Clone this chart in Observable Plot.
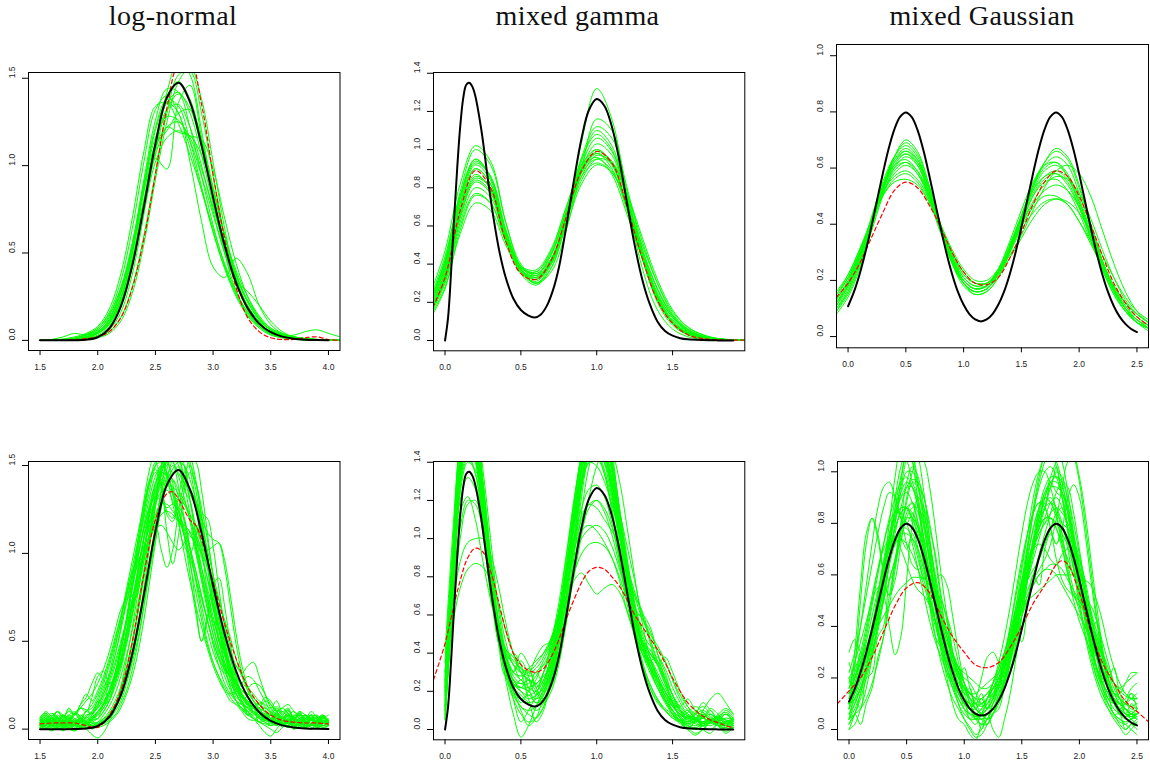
<!DOCTYPE html>
<html><head><meta charset="utf-8">
<script src="https://cdn.jsdelivr.net/npm/d3@7"></script>
<script src="https://cdn.jsdelivr.net/npm/@observablehq/plot@0.6"></script>
<style>
html,body{margin:0;padding:0;background:#fff;overflow:hidden;}
#fig{position:relative;width:1150px;height:768px;background:#fff;}
.title{position:absolute;top:0px;font-family:"Liberation Serif","Times New Roman",serif;font-size:28px;line-height:normal;white-space:nowrap;transform:translateX(-50%);color:#111;letter-spacing:0.4px;}
</style></head><body><div id="fig"></div>
<script>
// ---------- titles ----------
const titles = ["log-normal", "mixed gamma", "mixed Gaussian"];

// ---------- log-normal (top: smooth estimates) ----------
const lnTrueX = [1.5,1.6,1.7,1.8,1.9,2.0,2.1,2.2,2.3,2.4,2.5,2.6,2.7,2.8,2.9,3.0,3.1,3.2,3.3,3.4,3.5,3.6,3.7,3.8,3.9,4.0];
const lnTrueY = [0,0,0,0.0005,0.0034,0.018,0.068,0.1935,0.4295,0.7655,1.1242,1.3898,1.4742,1.3637,1.1158,0.8178,0.5428,0.3294,0.1845,0.096,0.0467,0.0214,0.0093,0.0038,0.0015,0.0006];
const lnGridX = [1.5,1.6,1.7,1.8,1.9,2.0,2.1,2.2,2.3,2.4,2.5,2.6,2.7,2.8,2.9,3.0,3.1,3.2,3.3,3.4,3.5,3.6,3.7,3.8,3.9,4.0,4.1];
const lnMeanSmoothY = [0,0,0.001,0.004,0.01,0.02,0.05,0.13,0.30,0.58,0.95,1.33,1.58,1.60,1.35,0.95,0.58,0.30,0.13,0.05,0.015,0.005,0.005,0.015,0.02,0.005,0];
const lnSmooth = [
 [0,0,0.002,0.01,0.02,0.04,0.09,0.21,0.44,0.76,1.08,1.32,1.41,1.33,1.10,0.82,0.56,0.35,0.20,0.11,0.06,0.03,0.015,0.008,0.004,0.002,0.001],
 [0,0.001,0.004,0.012,0.03,0.06,0.14,0.30,0.56,0.90,1.22,1.38,1.34,1.14,0.88,0.62,0.41,0.25,0.14,0.08,0.04,0.02,0.01,0.005,0.002,0.001,0],
 [0,0,0,0.003,0.01,0.025,0.06,0.16,0.38,0.72,1.10,1.42,1.60,1.52,1.20,0.82,0.50,0.28,0.14,0.07,0.03,0.015,0.007,0.003,0.001,0,0],
 [0,0,0.001,0.006,0.02,0.05,0.11,0.24,0.47,0.80,1.10,1.22,1.19,1.17,1.06,0.86,0.60,0.38,0.22,0.12,0.06,0.03,0.02,0.01,0.005,0.002,0],
 [0,0,0,0.004,0.015,0.04,0.10,0.24,0.50,0.86,1.04,0.98,1.36,1.46,1.16,0.83,0.56,0.36,0.22,0.12,0.06,0.03,0.01,0.005,0.002,0,0],
 [0,0,0,0.005,0.02,0.05,0.12,0.27,0.52,0.88,1.20,1.36,1.30,1.02,0.68,0.42,0.36,0.47,0.38,0.20,0.09,0.04,0.02,0.01,0.005,0.002,0],
 [0,0.002,0.008,0.02,0.04,0.08,0.18,0.38,0.70,1.08,1.34,1.36,1.24,1.06,0.86,0.64,0.44,0.28,0.16,0.09,0.05,0.03,0.02,0.01,0.005,0.002,0.001],
 [0,0,0,0.002,0.008,0.02,0.05,0.13,0.31,0.60,0.96,1.30,1.52,1.54,1.30,0.94,0.60,0.34,0.18,0.09,0.04,0.02,0.01,0.004,0.002,0,0],
 [0,0.001,0.004,0.014,0.035,0.07,0.15,0.30,0.52,0.80,1.06,1.22,1.25,1.16,0.98,0.76,0.55,0.37,0.23,0.13,0.07,0.04,0.02,0.01,0.006,0.003,0.001],
 [0,0.005,0.02,0.04,0.03,0.05,0.12,0.28,0.55,0.92,1.26,1.44,1.42,1.22,0.94,0.66,0.43,0.26,0.15,0.08,0.04,0.02,0.01,0.005,0.002,0.001,0],
 [0,0,0.001,0.005,0.015,0.04,0.10,0.23,0.46,0.80,1.14,1.36,1.42,1.30,1.06,0.78,0.52,0.32,0.18,0.10,0.05,0.03,0.03,0.05,0.06,0.04,0.02],
 [0,0,0.002,0.008,0.02,0.05,0.11,0.25,0.50,0.85,1.12,1.20,1.30,1.32,1.15,0.88,0.60,0.38,0.22,0.12,0.06,0.03,0.015,0.007,0.003,0.001,0],
 [0,0,0.001,0.004,0.012,0.03,0.08,0.19,0.42,0.76,1.12,1.40,1.48,1.38,1.14,0.86,0.60,0.40,0.25,0.14,0.07,0.035,0.015,0.006,0.002,0.001,0],
 [0,0,0.002,0.008,0.02,0.045,0.10,0.22,0.44,0.74,1.02,1.16,1.20,1.17,1.15,0.98,0.70,0.44,0.25,0.13,0.06,0.03,0.015,0.007,0.003,0.001,0],
 [0,0,0.003,0.01,0.03,0.07,0.16,0.34,0.64,1.02,1.32,1.40,1.30,1.10,0.86,0.62,0.42,0.27,0.16,0.09,0.05,0.025,0.012,0.006,0.003,0.001,0],
 [0,0,0.001,0.005,0.015,0.04,0.09,0.21,0.43,0.76,1.10,1.32,1.35,1.22,1.00,0.74,0.50,0.34,0.28,0.20,0.11,0.05,0.02,0.01,0.004,0.001,0],
 [0,0,0,0.002,0.006,0.015,0.04,0.11,0.27,0.55,0.92,1.25,1.48,1.56,1.38,1.02,0.64,0.35,0.17,0.08,0.035,0.015,0.006,0.002,0.001,0,0],
 [0,0.001,0.004,0.012,0.03,0.06,0.13,0.28,0.54,0.88,1.16,1.28,1.26,1.14,0.94,0.72,0.50,0.32,0.19,0.11,0.06,0.03,0.015,0.008,0.004,0.002,0.001]
];

// ---------- log-normal (bottom: rough estimates) ----------
const lnFineX = [1.5,1.55,1.6,1.65,1.7,1.75,1.8,1.85,1.9,1.95,2.0,2.05,2.1,2.15,2.2,2.25,2.3,2.35,2.4,2.45,2.5,2.55,2.6,2.65,2.7,2.75,2.8,2.85,2.9,2.95,3.0,3.05,3.1,3.15,3.2,3.25,3.3,3.35,3.4,3.45,3.5,3.55,3.6,3.65,3.7,3.75,3.8,3.85,3.9,3.95,4.0];
const lnMeanRoughX = [1.5,1.6,1.7,1.8,1.9,2.0,2.1,2.2,2.3,2.4,2.5,2.6,2.65,2.7,2.8,2.85,2.9,3.0,3.1,3.2,3.3,3.4,3.5,3.6,3.7,3.8,3.9,4.0];
const lnMeanRoughY = [0.03,0.035,0.035,0.035,0.02,0.01,0.08,0.22,0.50,0.88,1.19,1.34,1.35,1.31,1.19,1.16,1.08,0.84,0.60,0.40,0.24,0.14,0.08,0.05,0.04,0.035,0.035,0.03];
const lnRough = [
 [0.04,0.06,0.03,0.01,0.04,0.07,0.05,0.02,0.03,0.06, 0.10,0.15,0.22,0.30,0.38,0.52,0.70,0.88,1.02,1.18, 1.32,1.45,1.55,1.58,1.50,1.40,1.36,1.30,1.15,0.98, 0.80,0.62,0.46,0.34,0.26,0.20,0.16,0.12,0.10,0.07, 0.05,0.06,0.03,0.01,0.03,0.06,0.04,0.01,0.02,0.05,0.03],
 [0.02,0.00,0.03,0.06,0.04,0.02,0.05,0.08,0.06,0.10, 0.16,0.24,0.30,0.42,0.58,0.76,0.92,1.08,1.26,1.42, 1.48,1.38,1.22,1.18,1.26,1.20,1.02,0.84,0.66,0.50, 0.38,0.30,0.22,0.16,0.14,0.10,0.06,0.05,0.07,0.04, 0.02,0.03,0.05,0.03,0.00,0.02,0.05,0.06,0.03,0.01,0.02],
 [0.01,0.03,0.05,0.02,-0.01,0.02,0.04,0.02,0.01,0.03, 0.04,0.06,0.08,0.14,0.22,0.34,0.48,0.66,0.86,1.06, 1.26,1.44,1.58,1.66,1.70,1.62,1.48,1.30,1.12,0.96, 0.82,0.66,0.50,0.36,0.26,0.18,0.13,0.10,0.08,0.06, 0.04,0.02,0.04,0.07,0.05,0.02,0.01,0.03,0.05,0.04,0.02],
 [0.05,0.03,0.02,0.04,0.07,0.05,0.03,0.05,0.08,0.09, 0.12,0.18,0.26,0.36,0.48,0.62,0.80,0.98,1.16,1.32, 1.44,1.50,1.46,1.34,1.20,1.12,0.96,0.70,0.50,0.62, 0.74,0.66,0.48,0.32,0.22,0.18,0.16,0.12,0.08,0.06, 0.05,0.08,0.10,0.07,0.04,0.03,0.06,0.08,0.05,0.02,0.03],
 [0.03,0.05,0.08,0.06,0.03,0.05,0.09,0.12,0.10,0.18, 0.30,0.33,0.26,0.28,0.40,0.56,0.72,0.90,1.08,1.24, 1.36,1.42,1.40,1.34,1.30,1.28,1.20,1.06,0.88,0.70, 0.54,0.42,0.33,0.26,0.20,0.15,0.12,0.10,0.07,0.05, 0.04,0.05,0.03,0.02,0.04,0.06,0.04,0.02,0.03,0.05,0.04],
 [0.02,0.04,0.02,0.00,0.02,0.05,0.03,0.01,0.03,0.04, 0.06,0.10,0.16,0.24,0.34,0.48,0.64,0.82,1.00,1.14, 1.16,1.02,0.92,1.02,1.24,1.40,1.46,1.40,1.26,1.08, 0.88,0.68,0.50,0.36,0.26,0.20,0.15,0.12,0.09,0.06, 0.04,0.03,0.05,0.04,0.02,0.04,0.06,0.03,0.01,0.03,0.04],
 [0.04,0.02,0.01,0.03,0.05,0.03,0.02,0.04,0.02,0.01, 0.02,0.04,0.06,0.10,0.16,0.26,0.38,0.52,0.70,0.90, 1.08,1.26,1.40,1.48,1.52,1.50,1.42,1.30,1.16,1.02, 0.88,0.74,0.60,0.46,0.36,0.32,0.36,0.38,0.30,0.20, 0.12,0.08,0.06,0.08,0.10,0.07,0.04,0.05,0.07,0.05,0.03],
 [0.06,0.08,0.05,0.03,0.06,0.10,0.08,0.12,0.16,0.20, 0.26,0.34,0.44,0.56,0.68,0.74,0.76,0.84,1.02,1.22, 1.38,1.46,1.44,1.36,1.24,1.10,0.94,0.78,0.62,0.48, 0.38,0.30,0.24,0.18,0.14,0.12,0.09,0.06,0.04,0.05, 0.08,0.06,0.03,0.01,0.03,0.06,0.08,0.05,0.02,0.00,0.02],
 [0.02,0.01,-0.01,0.01,0.03,0.02,0.00,0.02,0.03,0.02, 0.03,0.05,0.07,0.12,0.20,0.30,0.44,0.60,0.80,1.04, 1.28,1.50,1.66,1.72,1.66,1.50,1.30,1.10,0.92,0.76, 0.60,0.46,0.34,0.24,0.16,0.11,0.08,0.06,0.04,0.03, 0.02,0.04,0.06,0.04,0.02,0.01,0.03,0.05,0.06,0.04,0.02],
 [0.05,0.07,0.04,0.02,0.05,0.08,0.06,0.04,0.07,0.10, 0.14,0.20,0.28,0.38,0.50,0.62,0.74,0.86,0.98,1.08, 1.16,1.22,1.24,1.22,1.18,1.14,1.10,1.06,1.00,0.92, 0.80,0.66,0.52,0.40,0.30,0.24,0.20,0.18,0.14,0.10, 0.08,0.10,0.12,0.09,0.05,0.03,0.05,0.08,0.07,0.04,0.03],
 [0.00,0.02,0.05,0.07,0.04,0.01,0.03,0.06,0.05,0.08, 0.12,0.16,0.22,0.32,0.46,0.64,0.86,1.08,1.30,1.48, 1.58,1.56,1.44,1.28,1.18,1.16,1.12,1.00,0.84,0.68, 0.54,0.44,0.36,0.28,0.20,0.14,0.10,0.08,0.10,0.12, 0.09,0.05,0.03,0.04,0.06,0.04,0.01,0.00,0.03,0.06,0.05],
 [0.03,0.02,0.04,0.06,0.03,0.01,0.02,0.05,0.04,0.02, 0.03,0.06,0.10,0.16,0.24,0.36,0.50,0.68,0.90,1.12, 1.32,1.46,1.52,1.40,1.18,1.04,1.00,1.10,1.22,1.20, 1.04,0.80,0.58,0.40,0.28,0.20,0.14,0.10,0.07,0.05, 0.06,0.09,0.07,0.04,0.02,0.04,0.07,0.05,0.03,0.05,0.04],
 [0.05,0.04,0.07,0.10,0.08,0.05,0.08,0.12,0.11,0.09, 0.13,0.20,0.30,0.42,0.56,0.72,0.88,1.04,1.20,1.36, 1.50,1.60,1.62,1.54,1.38,1.20,1.04,0.90,0.76,0.62, 0.48,0.36,0.26,0.20,0.16,0.14,0.12,0.09,0.06,0.04, 0.03,0.05,0.07,0.05,0.03,0.02,0.04,0.06,0.04,0.02,0.03],
 [0.01,0.03,0.02,0.00,0.01,0.04,0.03,0.01,0.02,0.04, 0.03,0.05,0.09,0.14,0.22,0.32,0.44,0.58,0.76,0.96, 1.16,1.34,1.48,1.56,1.54,1.44,1.30,1.16,1.06,1.02, 1.04,1.06,0.96,0.76,0.54,0.36,0.24,0.16,0.11,0.08, 0.06,0.04,0.06,0.08,0.05,0.03,0.04,0.06,0.03,0.01,0.02],
 [0.04,0.06,0.09,0.07,0.04,0.06,0.09,0.07,0.05,0.08, 0.14,0.22,0.32,0.46,0.62,0.78,0.90,0.96,1.04,1.16, 1.28,1.35,1.36,1.30,1.20,1.10,0.98,0.86,0.74,0.62, 0.50,0.40,0.30,0.22,0.16,0.12,0.10,0.12,0.14,0.10, 0.06,0.04,0.03,0.05,0.08,0.06,0.03,0.02,0.04,0.07,0.05],
 [0.02,0.00,0.02,0.04,0.02,0.00,-0.01,0.01,0.03,0.02, 0.01,0.02,0.04,0.07,0.12,0.20,0.30,0.44,0.62,0.84, 1.06,1.26,1.42,1.54,1.60,1.62,1.56,1.42,1.22,1.00, 0.78,0.58,0.42,0.30,0.22,0.16,0.12,0.09,0.12,0.16, 0.14,0.10,0.06,0.04,0.05,0.08,0.06,0.03,0.02,0.04,0.03],
 [0.03,0.05,0.03,0.01,0.03,0.06,0.04,0.02,0.04,0.07, 0.10,0.14,0.20,0.30,0.44,0.62,0.82,1.04,1.24,1.40, 1.46,1.38,1.24,1.20,1.32,1.46,1.50,1.40,1.20,0.98, 0.76,0.58,0.44,0.34,0.26,0.19,0.14,0.10,0.07,0.06, 0.08,0.07,0.04,0.02,0.04,0.06,0.08,0.06,0.03,0.02,0.04],
 [0.02,0.04,0.06,0.04,0.02,0.03,0.05,0.03,0.02,0.05, 0.08,0.12,0.18,0.26,0.36,0.50,0.66,0.84,1.02,1.18, 1.30,1.38,1.40,1.38,1.34,1.28,1.20,1.10,0.98,0.86, 0.72,0.58,0.46,0.36,0.30,0.26,0.24,0.26,0.25,0.20, 0.14,0.10,0.12,0.14,0.10,0.06,0.04,0.06,0.08,0.05,0.04],
 [0.06,0.04,0.03,0.05,0.08,0.06,0.04,0.07,0.10,0.14, 0.20,0.28,0.38,0.50,0.64,0.80,0.96,1.12,1.28,1.42, 1.50,1.52,1.46,1.34,1.18,1.00,0.84,0.70,0.58,0.46, 0.36,0.28,0.22,0.20,0.22,0.26,0.30,0.28,0.22,0.16, 0.10,0.07,0.05,0.03,0.05,0.08,0.06,0.03,0.01,0.03,0.05],
 [0.03,0.01,0.00,0.02,0.05,0.04,0.02,0.01,0.00,-0.03, -0.05,-0.02,0.04,0.12,0.24,0.40,0.58,0.78,0.96,1.12, 1.22,1.28,1.28,1.24,1.20,1.16,1.12,1.04,0.92,0.78, 0.64,0.50,0.38,0.28,0.20,0.14,0.10,0.07,0.04,0.02, 0.00,-0.02,0.01,0.04,0.06,0.04,0.02,0.03,0.06,0.08,0.05],
 [0.07,0.09,0.06,0.03,0.05,0.08,0.10,0.07,0.04,0.06, 0.09,0.14,0.20,0.28,0.40,0.56,0.74,0.92,1.10,1.26, 1.40,1.50,1.54,1.52,1.44,1.32,1.18,1.02,0.86,0.72, 0.58,0.46,0.36,0.30,0.26,0.22,0.18,0.14,0.10,0.08, 0.09,0.11,0.08,0.05,0.07,0.10,0.08,0.05,0.04,0.06,0.08],
 [0.01,0.03,0.05,0.03,0.01,0.02,0.04,0.06,0.04,0.02, 0.04,0.08,0.13,0.20,0.30,0.42,0.56,0.72,0.90,1.10, 1.30,1.48,1.60,1.64,1.56,1.40,1.22,1.04,0.88,0.74, 0.62,0.52,0.42,0.32,0.24,0.18,0.14,0.13,0.15,0.13, 0.09,0.05,0.03,0.02,0.04,0.03,0.01,0.02,0.05,0.07,0.04],
 [0.06,0.02,0.07,0.03,0.08,0.04,0.09,0.05,0.10,0.08, 0.16,0.14,0.26,0.28,0.44,0.50,0.70,0.78,1.00,1.10, 1.34,1.40,1.52,1.46,1.50,1.36,1.30,1.12,1.02,0.80, 0.70,0.50,0.44,0.30,0.28,0.18,0.18,0.10,0.12,0.05, 0.08,0.02,0.06,0.01,0.07,0.02,0.08,0.03,0.07,0.02,0.05],
 [0.00,0.05,0.01,0.06,0.00,0.04,-0.01,0.05,0.02,0.07, 0.06,0.14,0.16,0.30,0.36,0.56,0.66,0.90,1.00,1.22, 1.30,1.48,1.50,1.60,1.52,1.50,1.34,1.26,1.04,0.92, 0.68,0.58,0.38,0.32,0.18,0.16,0.08,0.10,0.04,0.08, 0.02,0.07,0.01,0.06,0.00,0.05,0.01,0.06,0.02,0.07,0.03],
 [0.04,0.08,0.05,0.10,0.06,0.12,0.08,0.14,0.18,0.26, 0.32,0.28,0.24,0.32,0.46,0.60,0.70,0.80,0.96,1.10, 1.20,1.32,1.38,1.42,1.36,1.30,1.22,1.16,1.06,0.94, 0.82,0.74,0.62,0.52,0.40,0.30,0.24,0.20,0.16,0.14, 0.12,0.16,0.10,0.12,0.06,0.10,0.04,0.08,0.03,0.07,0.04],
 [0.02,0.06,0.03,0.07,0.02,0.05,0.01,0.04,0.03,0.06, 0.08,0.12,0.20,0.30,0.44,0.62,0.82,1.02,1.22,1.40, 1.52,1.40,1.12,0.94,1.10,1.36,1.54,1.52,1.36,1.12, 0.86,0.64,0.46,0.34,0.24,0.20,0.14,0.12,0.08,0.10, 0.06,0.09,0.04,0.08,0.03,0.06,0.02,0.07,0.04,0.08,0.05],
 [0.03,0.07,0.04,0.08,0.05,0.02,0.06,0.03,0.07,0.05, 0.10,0.14,0.22,0.32,0.46,0.62,0.80,0.98,1.14,1.26, 1.32,1.30,1.26,1.28,1.24,1.10,0.88,0.66,0.50,0.64, 0.82,0.86,0.70,0.48,0.30,0.20,0.16,0.14,0.10,0.08, 0.05,0.09,0.06,0.10,0.07,0.03,0.06,0.02,0.05,0.08,0.04],
 [0.01,0.04,0.02,0.05,0.01,0.03,0.00,0.04,0.01,0.03, 0.02,0.05,0.08,0.12,0.18,0.28,0.40,0.56,0.74,0.94, 1.12,1.30,1.44,1.50,1.46,1.40,1.36,1.30,1.20,1.12, 1.08,1.06,0.92,0.70,0.48,0.32,0.22,0.16,0.12,0.10, 0.08,0.12,0.08,0.11,0.06,0.09,0.04,0.07,0.03,0.06,0.02],
 [0.05,0.09,0.06,0.10,0.07,0.11,0.08,0.14,0.20,0.16, 0.22,0.30,0.40,0.52,0.64,0.76,0.88,1.00,1.14,1.28, 1.40,1.46,1.44,1.36,1.26,1.14,1.02,0.90,0.76,0.62, 0.50,0.40,0.34,0.30,0.26,0.22,0.20,0.18,0.14,0.12, 0.10,0.13,0.09,0.11,0.06,0.09,0.05,0.08,0.04,0.07,0.05],
 [0.02,0.05,0.02,0.06,0.03,0.07,0.02,0.06,0.03,0.05, 0.06,0.10,0.16,0.26,0.38,0.54,0.72,0.90,1.08,1.24, 1.36,1.44,1.46,1.42,1.32,1.18,1.02,0.86,0.70,0.56, 0.44,0.36,0.32,0.34,0.36,0.30,0.22,0.16,0.14,0.18, 0.16,0.10,0.06,0.09,0.05,0.08,0.03,0.06,0.02,0.05,0.03],
 [0.03,0.00,0.04,0.01,0.05,0.02,0.04,0.01,0.03,0.00, 0.02,0.03,0.05,0.08,0.14,0.22,0.34,0.50,0.70,0.92, 1.14,1.36,1.54,1.66,1.70,1.64,1.52,1.36,1.16,0.94, 0.72,0.52,0.36,0.24,0.16,0.12,0.08,0.10,0.06,0.09, 0.04,0.08,0.03,0.06,0.01,0.05,0.02,0.06,0.03,0.07,0.04],
 [0.06,0.10,0.07,0.04,0.08,0.05,0.09,0.06,0.10,0.12, 0.18,0.26,0.36,0.48,0.60,0.72,0.84,0.94,1.04,1.10, 1.14,1.16,1.12,1.06,1.02,1.06,1.12,1.10,1.00,0.86, 0.70,0.56,0.44,0.34,0.24,0.16,0.10,0.06,0.02,-0.02, -0.04,0.00,0.04,0.08,0.05,0.09,0.06,0.10,0.07,0.04,0.06]
];

// ---------- mixed gamma ----------
const mgTrueX = [0,0.02,0.04,0.06,0.08,0.10,0.12,0.14,0.16,0.18,0.20,0.24,0.28,0.32,0.36,0.40,0.45,0.50,0.55,0.59,0.63,0.67,0.71,0.75,0.80,0.85,0.90,0.95,1.00,1.05,1.10,1.15,1.20,1.25,1.30,1.35,1.40,1.45,1.50,1.55,1.60,1.70,1.80,1.90];
const mgTrueY = [0,0.12,0.36,0.64,0.90,1.12,1.27,1.34,1.35,1.33,1.28,1.10,0.86,0.64,0.46,0.33,0.22,0.16,0.13,0.12,0.135,0.18,0.26,0.38,0.60,0.84,1.06,1.21,1.265,1.23,1.12,0.94,0.72,0.50,0.32,0.19,0.10,0.05,0.025,0.012,0.006,0.002,0.0005,0];
const mgGridX = [-0.1,0,0.1,0.2,0.3,0.4,0.5,0.6,0.7,0.8,0.9,1.0,1.1,1.2,1.3,1.4,1.5,1.6,1.7,1.8,1.9,2.0];
const mgMeanSmoothY = [0.14,0.33,0.68,0.89,0.80,0.52,0.35,0.32,0.42,0.65,0.89,0.99,0.93,0.70,0.43,0.21,0.09,0.03,0.01,0.004,0.002,0.001];
const mgSmooth = [
 [0.16,0.36,0.70,0.90,0.82,0.55,0.37,0.33,0.43,0.66,0.90,1.00,0.93,0.70,0.43,0.22,0.09,0.035,0.012,0.004,0.001,0],
 [0.20,0.42,0.78,1.00,0.92,0.62,0.40,0.34,0.42,0.64,0.88,0.98,0.92,0.70,0.44,0.23,0.10,0.04,0.015,0.005,0.002,0],
 [0.12,0.28,0.56,0.72,0.68,0.50,0.36,0.32,0.40,0.60,0.82,0.92,0.88,0.70,0.47,0.27,0.13,0.06,0.025,0.01,0.004,0.001],
 [0.18,0.38,0.72,0.92,0.84,0.56,0.36,0.30,0.40,0.66,0.96,1.12,1.06,0.80,0.48,0.24,0.10,0.035,0.012,0.004,0.001,0],
 [0.14,0.32,0.64,0.83,0.77,0.53,0.37,0.34,0.45,0.68,0.90,0.98,0.90,0.68,0.43,0.23,0.11,0.045,0.018,0.006,0.002,0],
 [0.22,0.44,0.76,0.95,0.85,0.56,0.35,0.29,0.38,0.63,0.94,1.10,1.02,0.74,0.44,0.21,0.09,0.03,0.01,0.003,0.001,0],
 [0.13,0.30,0.60,0.77,0.72,0.52,0.38,0.36,0.47,0.70,0.92,1.00,0.92,0.70,0.45,0.25,0.12,0.05,0.02,0.007,0.002,0],
 [0.17,0.37,0.70,0.87,0.79,0.54,0.38,0.36,0.46,0.67,0.86,0.93,0.88,0.71,0.50,0.30,0.15,0.07,0.03,0.01,0.003,0.001],
 [0.24,0.47,0.82,1.02,0.94,0.62,0.38,0.30,0.36,0.58,0.90,1.16,1.10,0.78,0.44,0.20,0.08,0.03,0.01,0.003,0.001,0],
 [0.15,0.34,0.66,0.85,0.80,0.56,0.39,0.35,0.43,0.63,0.84,0.95,0.93,0.77,0.54,0.32,0.16,0.07,0.03,0.01,0.004,0.001],
 [0.19,0.40,0.74,0.93,0.86,0.58,0.37,0.30,0.38,0.64,1.04,1.32,1.16,0.74,0.38,0.16,0.06,0.02,0.006,0.002,0,0],
 [0.11,0.27,0.58,0.76,0.72,0.52,0.37,0.33,0.42,0.64,0.88,0.99,0.94,0.74,0.48,0.27,0.13,0.05,0.02,0.007,0.002,0],
 [0.21,0.42,0.76,0.95,0.86,0.57,0.37,0.32,0.41,0.64,0.90,1.03,0.97,0.73,0.45,0.23,0.10,0.04,0.015,0.005,0.001,0],
 [0.16,0.35,0.67,0.86,0.80,0.55,0.37,0.32,0.41,0.64,0.92,1.06,0.99,0.75,0.46,0.23,0.10,0.04,0.014,0.005,0.001,0],
 [0.14,0.31,0.62,0.80,0.75,0.53,0.38,0.35,0.45,0.68,0.88,0.95,0.89,0.70,0.47,0.27,0.13,0.055,0.02,0.008,0.003,0.001],
 [0.18,0.39,0.72,0.90,0.82,0.55,0.36,0.31,0.41,0.66,0.95,1.08,1.00,0.73,0.43,0.21,0.09,0.035,0.012,0.004,0.001,0],
 [0.15,0.33,0.65,0.84,0.78,0.55,0.39,0.37,0.48,0.70,0.90,0.96,0.87,0.66,0.43,0.24,0.12,0.05,0.02,0.007,0.002,0],
 [0.20,0.41,0.75,0.94,0.86,0.58,0.39,0.33,0.41,0.62,0.86,0.97,0.93,0.76,0.52,0.30,0.14,0.06,0.02,0.007,0.002,0]
];
const mgFineX = [0,0.05,0.1,0.15,0.2,0.25,0.3,0.35,0.4,0.45,0.5,0.55,0.6,0.65,0.7,0.75,0.8,0.85,0.9,0.95,1.0,1.05,1.1,1.15,1.2,1.25,1.3,1.35,1.4,1.45,1.5,1.55,1.6,1.65,1.7,1.75,1.8,1.85,1.9];
const mgMeanRoughX = [-0.076,0,0.05,0.1,0.15,0.2,0.25,0.3,0.35,0.4,0.45,0.5,0.55,0.6,0.65,0.7,0.75,0.8,0.85,0.9,0.95,1.0,1.05,1.1,1.15,1.2,1.25,1.3,1.35,1.4,1.45,1.5,1.55,1.6,1.65,1.7,1.75,1.8,1.85,1.9];
const mgMeanRoughY = [0.26,0.45,0.62,0.78,0.90,0.95,0.93,0.83,0.68,0.52,0.40,0.34,0.31,0.30,0.32,0.38,0.47,0.58,0.68,0.77,0.83,0.85,0.84,0.80,0.75,0.68,0.60,0.54,0.48,0.42,0.35,0.27,0.20,0.14,0.10,0.07,0.05,0.035,0.02,0.01];
const mgRough = [
 [0.20,0.90,1.50,1.70,1.62,1.30,0.90,0.56,0.32,0.20,0.16,0.18,0.14,0.16,0.28,0.48,0.78,1.10,1.38,1.56,1.62,1.54,1.34,1.04,0.74,0.50,0.34,0.22,0.14,0.10,0.06,0.04,0.07,0.05,0.02,0.04,0.06,0.03,0.02],
 [0.30,0.55,0.74,0.84,0.87,0.85,0.78,0.66,0.52,0.40,0.32,0.28,0.30,0.36,0.46,0.60,0.76,0.90,1.00,1.05,1.07,1.04,0.96,0.84,0.70,0.56,0.44,0.34,0.26,0.18,0.12,0.08,0.06,0.05,0.06,0.04,0.03,0.02,0.03],
 [0.25,0.62,0.88,0.98,1.00,1.00,0.92,0.76,0.56,0.40,0.30,0.26,0.24,0.30,0.42,0.60,0.80,1.00,1.16,1.26,1.28,1.22,1.08,0.88,0.66,0.48,0.34,0.24,0.16,0.11,0.08,0.05,0.03,0.05,0.07,0.05,0.02,0.01,0.03],
 [0.10,0.60,1.00,1.18,1.20,1.06,0.82,0.58,0.40,0.30,0.26,0.22,0.20,0.26,0.38,0.52,0.66,0.78,0.82,0.76,0.71,0.74,0.76,0.72,0.62,0.50,0.40,0.32,0.26,0.20,0.14,0.09,0.06,0.04,0.06,0.08,0.05,0.02,0.01],
 [0.05,0.70,1.44,1.72,1.60,1.22,0.80,0.48,0.30,0.20,0.10,0.02,0.06,0.18,0.30,0.46,0.70,1.00,1.30,1.50,1.56,1.46,1.24,0.96,0.70,0.52,0.42,0.36,0.26,0.16,0.08,0.03,0.01,0.04,0.08,0.06,0.02,-0.02,0.01],
 [0.18,0.84,1.40,1.56,1.44,1.16,0.84,0.58,0.42,0.34,0.30,0.32,0.36,0.40,0.46,0.58,0.76,0.94,1.04,1.07,1.04,0.98,0.90,0.78,0.62,0.50,0.42,0.36,0.28,0.20,0.13,0.08,0.05,0.03,0.02,0.04,0.06,0.05,0.03],
 [0.12,0.78,1.36,1.54,1.42,1.10,0.74,0.46,0.36,0.40,0.34,0.22,0.14,0.18,0.30,0.50,0.78,1.06,1.30,1.46,1.50,1.42,1.24,1.00,0.76,0.56,0.42,0.32,0.24,0.16,0.10,0.06,0.04,0.06,0.08,0.05,0.03,0.04,0.05],
 [0.22,0.88,1.42,1.62,1.50,1.18,0.82,0.54,0.36,0.26,0.20,0.16,0.18,0.22,0.34,0.54,0.82,1.12,1.36,1.48,1.46,1.36,1.20,1.02,0.84,0.66,0.50,0.40,0.34,0.26,0.18,0.11,0.07,0.05,0.03,0.05,0.07,0.09,0.06],
 [0.08,0.74,1.46,1.76,1.64,1.28,0.88,0.56,0.34,0.20,0.12,0.10,0.12,0.20,0.34,0.56,0.86,1.18,1.44,1.60,1.64,1.56,1.36,1.08,0.78,0.54,0.36,0.24,0.16,0.10,0.06,0.04,0.02,0.01,0.03,0.05,0.04,0.02,0.01],
 [0.26,0.86,1.30,1.44,1.34,1.06,0.74,0.48,0.32,0.24,0.22,0.28,0.38,0.44,0.46,0.52,0.66,0.86,1.04,1.16,1.20,1.16,1.06,0.90,0.72,0.56,0.46,0.40,0.34,0.26,0.18,0.12,0.08,0.06,0.04,0.03,0.05,0.04,0.03],
 [0.15,0.80,1.34,1.52,1.44,1.14,0.78,0.50,0.32,0.22,0.16,0.14,0.16,0.24,0.38,0.58,0.84,1.10,1.32,1.44,1.44,1.34,1.14,0.90,0.70,0.60,0.60,0.54,0.40,0.26,0.14,0.07,0.04,0.05,0.10,0.16,0.19,0.14,0.08],
 [0.10,0.66,1.26,1.50,1.46,1.20,0.86,0.56,0.36,0.26,0.24,0.26,0.24,0.20,0.24,0.40,0.66,0.98,1.28,1.50,1.60,1.56,1.40,1.16,0.90,0.66,0.46,0.32,0.22,0.15,0.10,0.06,0.03,0.02,0.04,0.06,0.04,0.01,0.00],
 [0.30,0.74,1.06,1.20,1.18,1.04,0.80,0.56,0.38,0.28,0.24,0.24,0.28,0.34,0.42,0.56,0.74,0.94,1.10,1.18,1.20,1.14,1.02,0.86,0.70,0.56,0.44,0.34,0.26,0.20,0.14,0.10,0.07,0.05,0.04,0.05,0.06,0.05,0.04],
 [0.12,0.76,1.40,1.62,1.50,1.16,0.78,0.48,0.28,0.16,0.08,0.04,0.06,0.12,0.24,0.44,0.72,1.06,1.38,1.60,1.70,1.66,1.46,1.14,0.80,0.52,0.34,0.22,0.15,0.10,0.07,0.05,0.03,0.04,0.06,0.04,0.02,0.03,0.04],
 [0.20,0.82,1.38,1.58,1.48,1.16,0.80,0.52,0.34,0.24,0.20,0.18,0.20,0.26,0.38,0.56,0.80,1.06,1.28,1.40,1.42,1.34,1.16,0.92,0.70,0.52,0.40,0.36,0.38,0.32,0.22,0.14,0.08,0.05,0.03,0.02,0.04,0.06,0.05],
 [0.06,0.70,1.40,1.68,1.58,1.24,0.84,0.50,0.26,0.08,-0.04,0.02,0.12,0.22,0.36,0.56,0.82,1.10,1.34,1.50,1.54,1.46,1.28,1.04,0.80,0.60,0.44,0.32,0.22,0.14,0.08,0.04,0.01,-0.02,0.00,0.04,0.07,0.05,0.02],
 [0.24,0.80,1.20,1.32,1.26,1.02,0.74,0.50,0.34,0.26,0.22,0.22,0.24,0.28,0.34,0.44,0.60,0.80,1.02,1.22,1.38,1.46,1.44,1.30,1.06,0.80,0.56,0.38,0.26,0.18,0.12,0.08,0.06,0.08,0.10,0.07,0.04,0.03,0.05],
 [0.16,0.78,1.36,1.56,1.46,1.14,0.78,0.50,0.32,0.24,0.22,0.20,0.16,0.20,0.32,0.52,0.80,1.10,1.36,1.52,1.56,1.48,1.30,1.06,0.82,0.62,0.46,0.34,0.24,0.16,0.10,0.07,0.09,0.12,0.09,0.05,0.08,0.11,0.08],
 [0.28,0.84,1.28,1.42,1.34,1.08,0.78,0.54,0.38,0.30,0.28,0.30,0.34,0.40,0.48,0.58,0.70,0.82,0.92,0.97,0.98,0.96,0.90,0.80,0.68,0.56,0.46,0.38,0.30,0.22,0.15,0.10,0.07,0.05,0.04,0.05,0.04,0.03,0.04],
 [0.10,0.84,1.56,1.80,1.66,1.26,0.84,0.52,0.32,0.22,0.18,0.14,0.10,0.14,0.26,0.48,0.80,1.16,1.46,1.66,1.72,1.62,1.40,1.10,0.80,0.56,0.40,0.30,0.22,0.15,0.09,0.05,0.02,0.00,0.02,0.04,0.02,0.00,0.01],
 [0.35,0.96,1.48,1.62,1.44,1.10,0.70,0.52,0.38,0.30,0.36,0.28,0.18,0.24,0.40,0.62,0.90,1.20,1.44,1.58,1.60,1.50,1.30,1.06,0.86,0.64,0.58,0.52,0.40,0.30,0.18,0.12,0.16,0.10,0.06,0.10,0.05,0.08,0.04],
 [0.05,0.64,1.30,1.60,1.56,1.30,0.92,0.58,0.34,0.22,0.26,0.16,0.04,0.10,0.30,0.54,0.84,1.14,1.40,1.52,1.48,1.40,1.28,1.14,0.96,0.78,0.60,0.48,0.36,0.26,0.14,0.06,0.00,0.04,0.00,-0.02,0.03,0.00,0.02],
 [0.40,1.02,1.50,1.66,1.54,1.20,0.82,0.54,0.40,0.34,0.26,0.32,0.22,0.30,0.46,0.66,0.92,1.20,1.42,1.54,1.52,1.40,1.22,1.02,0.84,0.70,0.62,0.48,0.34,0.24,0.16,0.10,0.04,0.08,0.14,0.10,0.06,0.10,0.07],
 [0.18,0.82,1.34,1.50,1.40,1.10,0.78,0.52,0.34,0.16,0.04,0.10,0.18,0.30,0.44,0.62,0.86,1.10,1.30,1.40,1.38,1.30,1.18,1.02,0.86,0.72,0.60,0.46,0.34,0.38,0.30,0.20,0.12,0.06,0.02,0.00,0.04,0.08,0.06],
 [0.22,0.86,1.42,1.70,1.60,1.26,0.86,0.56,0.42,0.38,0.30,0.20,0.26,0.34,0.30,0.40,0.62,0.94,1.26,1.50,1.62,1.58,1.42,1.16,0.86,0.60,0.46,0.42,0.34,0.24,0.14,0.08,0.10,0.06,0.09,0.04,0.07,0.03,0.05],
 [0.12,0.72,1.24,1.40,1.36,1.16,0.90,0.66,0.46,0.34,0.30,0.26,0.20,0.14,0.20,0.34,0.58,0.90,1.22,1.46,1.58,1.54,1.38,1.14,0.88,0.64,0.48,0.40,0.36,0.28,0.18,0.10,0.06,0.10,0.07,0.11,0.08,0.04,0.06],
 [0.30,0.90,1.40,1.56,1.44,1.12,0.76,0.46,0.28,0.30,0.40,0.34,0.22,0.16,0.22,0.36,0.56,0.84,1.14,1.38,1.50,1.46,1.32,1.10,0.88,0.66,0.52,0.44,0.42,0.36,0.26,0.16,0.10,0.06,0.03,0.05,0.02,0.04,0.06],
 [0.08,0.70,1.36,1.66,1.62,1.36,1.00,0.64,0.40,0.24,0.14,0.20,0.30,0.24,0.28,0.44,0.70,1.00,1.28,1.46,1.52,1.44,1.26,1.02,0.78,0.58,0.46,0.38,0.28,0.20,0.12,0.08,0.05,0.09,0.12,0.08,0.05,0.02,0.05],
 [0.26,0.76,1.14,1.22,1.10,0.88,0.68,0.52,0.42,0.36,0.32,0.30,0.32,0.38,0.48,0.62,0.80,0.98,1.12,1.18,1.16,1.10,1.04,0.96,0.84,0.70,0.58,0.50,0.44,0.36,0.26,0.18,0.12,0.08,0.06,0.04,0.06,0.08,0.05],
 [0.14,0.80,1.44,1.72,1.60,1.24,0.84,0.52,0.30,0.18,0.12,0.08,0.06,0.12,0.26,0.48,0.78,1.12,1.42,1.60,1.66,1.58,1.38,1.10,0.82,0.60,0.46,0.36,0.28,0.18,0.10,0.04,0.00,-0.03,0.00,0.04,0.02,-0.01,0.02]
];

// ---------- mixed Gaussian ----------
const mnTrueX = [0,0.05,0.1,0.15,0.2,0.25,0.3,0.35,0.4,0.45,0.5,0.55,0.6,0.65,0.7,0.75,0.8,0.85,0.9,0.95,1.0,1.05,1.1,1.15,1.2,1.25,1.3,1.35,1.4,1.45,1.5,1.55,1.6,1.65,1.7,1.75,1.8,1.85,1.9,1.95,2.0,2.05,2.1,2.15,2.2,2.25,2.3,2.35,2.4,2.45,2.5];
const mnTrueY = [0.108,0.158,0.222,0.300,0.388,0.484,0.579,0.667,0.737,0.782,0.798,0.782,0.737,0.667,0.579,0.484,0.389,0.300,0.223,0.160,0.113,0.080,0.061,0.054,0.061,0.080,0.113,0.160,0.223,0.300,0.389,0.484,0.579,0.667,0.737,0.782,0.798,0.782,0.737,0.667,0.579,0.484,0.388,0.300,0.222,0.158,0.108,0.071,0.045,0.027,0.016];
const mnGridX = [-0.1,0,0.1,0.2,0.3,0.4,0.5,0.6,0.7,0.8,0.9,1.0,1.1,1.2,1.3,1.4,1.5,1.6,1.7,1.8,1.9,2.0,2.1,2.2,2.3,2.4,2.5,2.6];
const mnMeanSmoothY = [0.14,0.19,0.26,0.35,0.44,0.52,0.55,0.53,0.47,0.39,0.30,0.23,0.19,0.185,0.21,0.28,0.37,0.47,0.55,0.59,0.57,0.50,0.40,0.29,0.19,0.12,0.07,0.04];
const mnSmooth = [
 [0.10,0.17,0.27,0.40,0.53,0.63,0.67,0.63,0.52,0.39,0.27,0.19,0.16,0.17,0.22,0.31,0.42,0.52,0.59,0.61,0.57,0.48,0.36,0.25,0.16,0.09,0.05,0.03],
 [0.12,0.19,0.29,0.41,0.53,0.62,0.65,0.61,0.51,0.38,0.27,0.20,0.17,0.18,0.24,0.33,0.43,0.52,0.57,0.58,0.54,0.46,0.36,0.26,0.17,0.11,0.06,0.04],
 [0.09,0.15,0.25,0.38,0.52,0.64,0.70,0.66,0.54,0.39,0.26,0.18,0.15,0.16,0.21,0.30,0.41,0.53,0.62,0.67,0.64,0.54,0.40,0.27,0.17,0.10,0.05,0.02],
 [0.15,0.22,0.31,0.41,0.51,0.57,0.59,0.56,0.49,0.39,0.30,0.22,0.19,0.19,0.24,0.31,0.39,0.46,0.50,0.50,0.47,0.41,0.33,0.25,0.18,0.12,0.08,0.05],
 [0.11,0.18,0.28,0.41,0.54,0.63,0.66,0.62,0.51,0.38,0.26,0.19,0.16,0.17,0.23,0.32,0.43,0.54,0.61,0.64,0.61,0.51,0.39,0.27,0.17,0.10,0.05,0.03],
 [0.13,0.20,0.30,0.42,0.54,0.61,0.63,0.59,0.50,0.38,0.28,0.21,0.18,0.19,0.23,0.29,0.36,0.45,0.53,0.59,0.61,0.58,0.50,0.38,0.26,0.16,0.09,0.05],
 [0.08,0.14,0.24,0.37,0.50,0.60,0.64,0.61,0.51,0.38,0.27,0.19,0.16,0.17,0.22,0.31,0.41,0.50,0.55,0.56,0.52,0.44,0.34,0.24,0.16,0.10,0.06,0.03],
 [0.12,0.19,0.29,0.42,0.55,0.64,0.68,0.64,0.53,0.39,0.27,0.19,0.16,0.17,0.23,0.32,0.43,0.53,0.60,0.62,0.58,0.49,0.38,0.27,0.17,0.10,0.06,0.03],
 [0.14,0.21,0.30,0.41,0.51,0.58,0.61,0.58,0.50,0.39,0.29,0.22,0.19,0.19,0.23,0.30,0.38,0.44,0.48,0.49,0.47,0.41,0.34,0.26,0.18,0.12,0.08,0.05],
 [0.10,0.16,0.26,0.39,0.52,0.61,0.65,0.62,0.53,0.40,0.28,0.20,0.17,0.18,0.23,0.32,0.42,0.51,0.57,0.59,0.56,0.48,0.37,0.26,0.17,0.10,0.06,0.03],
 [0.16,0.22,0.31,0.41,0.50,0.55,0.56,0.54,0.48,0.40,0.31,0.24,0.20,0.20,0.24,0.31,0.40,0.48,0.54,0.57,0.56,0.51,0.42,0.31,0.21,0.13,0.08,0.05],
 [0.11,0.18,0.28,0.40,0.52,0.60,0.62,0.58,0.49,0.37,0.27,0.20,0.17,0.18,0.24,0.34,0.45,0.55,0.61,0.62,0.57,0.47,0.35,0.24,0.15,0.09,0.05,0.03],
 [0.09,0.16,0.26,0.39,0.53,0.64,0.69,0.65,0.54,0.40,0.27,0.19,0.15,0.16,0.21,0.30,0.40,0.50,0.56,0.58,0.55,0.46,0.35,0.24,0.15,0.09,0.05,0.03],
 [0.13,0.20,0.29,0.40,0.51,0.59,0.62,0.59,0.51,0.40,0.29,0.21,0.18,0.18,0.23,0.31,0.40,0.47,0.52,0.54,0.52,0.46,0.37,0.27,0.18,0.11,0.07,0.04],
 [0.12,0.18,0.27,0.39,0.52,0.62,0.66,0.63,0.53,0.40,0.28,0.20,0.17,0.18,0.23,0.32,0.43,0.54,0.62,0.66,0.63,0.53,0.40,0.27,0.17,0.10,0.05,0.03],
 [0.15,0.21,0.30,0.40,0.50,0.56,0.58,0.55,0.48,0.39,0.30,0.23,0.19,0.19,0.22,0.28,0.35,0.42,0.47,0.49,0.48,0.44,0.37,0.29,0.21,0.14,0.09,0.06]
];
const mnFineX = [0,0.05,0.1,0.15,0.2,0.25,0.3,0.35,0.4,0.45,0.5,0.55,0.6,0.65,0.7,0.75,0.8,0.85,0.9,0.95,1.0,1.05,1.1,1.15,1.2,1.25,1.3,1.35,1.4,1.45,1.5,1.55,1.6,1.65,1.7,1.75,1.8,1.85,1.9,1.95,2.0,2.05,2.1,2.15,2.2,2.25,2.3,2.35,2.4,2.45,2.5];
const mnMeanRoughX = [-0.1,0,0.1,0.2,0.3,0.4,0.5,0.6,0.7,0.8,0.9,1.0,1.1,1.2,1.3,1.4,1.5,1.6,1.7,1.8,1.85,1.9,2.0,2.1,2.2,2.3,2.4,2.5,2.6];
const mnMeanRoughY = [0.10,0.15,0.20,0.28,0.38,0.48,0.55,0.57,0.53,0.44,0.36,0.30,0.25,0.24,0.26,0.32,0.40,0.49,0.56,0.64,0.655,0.64,0.53,0.38,0.26,0.18,0.11,0.07,0.03];
const mnRough = [
 [0.12,0.20,0.26,0.30,0.38,0.52,0.66,0.76,0.84,0.90,0.92,0.88,0.80,0.70,0.60,0.50,0.40,0.30,0.22,0.16,0.12,0.10,0.08,0.06,0.08,0.12,0.18,0.26,0.34,0.42,0.50,0.58,0.66,0.74,0.82,0.88,0.90,0.86,0.78,0.66,0.54,0.44,0.36,0.30,0.24,0.18,0.14,0.12,0.10,0.08,0.07],
 [0.20,0.24,0.28,0.32,0.36,0.40,0.44,0.48,0.52,0.55,0.57,0.59,0.59,0.59,0.56,0.50,0.42,0.34,0.28,0.24,0.22,0.20,0.18,0.16,0.16,0.18,0.22,0.28,0.34,0.40,0.46,0.52,0.56,0.60,0.62,0.64,0.64,0.62,0.58,0.54,0.50,0.46,0.40,0.34,0.28,0.22,0.18,0.15,0.13,0.12,0.12],
 [0.04,0.08,0.14,0.22,0.32,0.46,0.62,0.80,0.98,1.10,1.12,1.04,0.88,0.68,0.50,0.36,0.26,0.18,0.12,0.08,0.04,0.01,-0.02,0.00,0.04,0.08,0.14,0.22,0.32,0.44,0.58,0.72,0.86,0.98,1.06,1.08,1.02,0.90,0.76,0.62,0.48,0.36,0.26,0.18,0.12,0.08,0.05,0.03,0.02,0.04,0.06],
 [0.18,0.26,0.34,0.42,0.50,0.55,0.52,0.40,0.29,0.36,0.58,0.80,0.90,0.86,0.74,0.58,0.44,0.32,0.24,0.18,0.14,0.12,0.10,0.09,0.10,0.13,0.18,0.24,0.32,0.42,0.52,0.62,0.70,0.76,0.80,0.82,0.80,0.74,0.64,0.54,0.46,0.40,0.34,0.28,0.22,0.16,0.12,0.08,0.06,0.05,0.06],
 [0.08,0.24,0.50,0.72,0.82,0.76,0.60,0.52,0.58,0.72,0.84,0.88,0.84,0.74,0.60,0.46,0.34,0.26,0.22,0.20,0.16,0.10,0.05,0.02,0.04,0.10,0.18,0.26,0.34,0.42,0.52,0.62,0.72,0.80,0.86,0.88,0.86,0.80,0.72,0.62,0.52,0.44,0.38,0.34,0.28,0.22,0.18,0.16,0.14,0.12,0.10],
 [0.00,0.06,0.14,0.24,0.34,0.46,0.58,0.72,0.86,0.98,1.06,1.04,0.94,0.80,0.64,0.50,0.38,0.28,0.20,0.14,0.10,0.06,0.04,0.06,0.10,0.14,0.20,0.28,0.38,0.48,0.58,0.66,0.72,0.78,0.86,0.94,1.00,0.98,0.88,0.74,0.60,0.48,0.38,0.30,0.22,0.16,0.12,0.10,0.08,0.06,0.05],
 [0.30,0.35,0.30,0.28,0.34,0.44,0.56,0.68,0.78,0.84,0.86,0.82,0.76,0.68,0.60,0.54,0.50,0.44,0.36,0.26,0.18,0.14,0.12,0.10,0.12,0.16,0.20,0.24,0.30,0.38,0.48,0.60,0.70,0.78,0.82,0.82,0.78,0.70,0.60,0.52,0.48,0.46,0.42,0.36,0.28,0.22,0.18,0.16,0.18,0.20,0.22],
 [0.10,0.14,0.20,0.28,0.36,0.46,0.56,0.66,0.74,0.78,0.78,0.74,0.66,0.58,0.50,0.42,0.34,0.28,0.22,0.16,0.12,0.10,0.10,0.12,0.14,0.16,0.18,0.22,0.28,0.36,0.44,0.52,0.58,0.62,0.66,0.72,0.82,0.94,1.04,1.06,0.98,0.84,0.66,0.48,0.32,0.20,0.12,0.08,0.06,0.05,0.06],
 [0.14,0.20,0.26,0.32,0.40,0.50,0.62,0.74,0.84,0.92,0.96,0.94,0.86,0.72,0.56,0.42,0.30,0.22,0.16,0.12,0.08,0.06,0.05,0.06,0.08,0.12,0.18,0.28,0.40,0.54,0.66,0.76,0.84,0.88,0.86,0.78,0.72,0.78,0.90,0.95,0.90,0.76,0.58,0.42,0.28,0.18,0.12,0.08,0.06,0.06,0.08],
 [0.16,0.22,0.30,0.40,0.52,0.62,0.70,0.74,0.74,0.70,0.64,0.58,0.54,0.52,0.48,0.42,0.34,0.28,0.24,0.22,0.20,0.18,0.14,0.10,0.08,0.10,0.16,0.24,0.34,0.44,0.52,0.58,0.62,0.66,0.72,0.78,0.84,0.86,0.82,0.74,0.64,0.54,0.46,0.38,0.30,0.22,0.16,0.12,0.10,0.09,0.10],
 [0.06,0.12,0.18,0.26,0.36,0.48,0.60,0.72,0.82,0.90,0.94,0.94,0.88,0.78,0.66,0.54,0.44,0.36,0.30,0.24,0.18,0.12,0.08,0.06,0.08,0.12,0.18,0.26,0.36,0.46,0.56,0.64,0.70,0.76,0.80,0.84,0.86,0.84,0.80,0.72,0.62,0.52,0.42,0.32,0.24,0.18,0.14,0.14,0.18,0.22,0.22],
 [0.02,0.06,0.12,0.20,0.28,0.38,0.50,0.64,0.80,0.96,1.08,1.12,1.06,0.92,0.74,0.56,0.40,0.28,0.18,0.10,0.04,0.00,-0.03,-0.02,0.02,0.06,0.12,0.20,0.30,0.42,0.56,0.70,0.84,0.94,1.00,1.02,0.98,0.90,0.78,0.64,0.50,0.38,0.28,0.20,0.14,0.08,0.04,0.01,-0.02,0.00,0.03],
 [0.12,0.16,0.22,0.30,0.40,0.52,0.64,0.74,0.82,0.86,0.86,0.80,0.70,0.60,0.56,0.58,0.60,0.56,0.44,0.30,0.18,0.10,0.06,0.04,0.06,0.10,0.16,0.24,0.34,0.44,0.54,0.64,0.72,0.78,0.82,0.82,0.78,0.72,0.66,0.60,0.56,0.50,0.42,0.32,0.22,0.16,0.12,0.10,0.08,0.07,0.06],
 [0.08,0.14,0.22,0.30,0.40,0.50,0.60,0.70,0.78,0.84,0.86,0.84,0.78,0.70,0.60,0.50,0.40,0.32,0.26,0.22,0.18,0.14,0.12,0.12,0.14,0.18,0.24,0.30,0.36,0.42,0.46,0.50,0.52,0.54,0.56,0.58,0.60,0.60,0.60,0.60,0.60,0.58,0.56,0.50,0.42,0.32,0.24,0.18,0.14,0.12,0.12],
 [0.10,0.16,0.24,0.34,0.44,0.54,0.62,0.70,0.74,0.76,0.76,0.74,0.70,0.62,0.52,0.42,0.32,0.24,0.18,0.14,0.10,0.08,0.06,0.04,0.06,0.08,0.12,0.18,0.28,0.40,0.54,0.70,0.84,0.96,1.04,1.10,1.10,1.04,0.92,0.76,0.60,0.46,0.34,0.24,0.16,0.10,0.06,0.04,0.03,0.04,0.05],
 [0.14,0.18,0.24,0.30,0.36,0.42,0.50,0.58,0.66,0.74,0.82,0.86,0.86,0.80,0.70,0.58,0.46,0.36,0.28,0.22,0.16,0.12,0.10,0.10,0.12,0.16,0.22,0.30,0.40,0.52,0.64,0.76,0.84,0.88,0.86,0.78,0.66,0.58,0.54,0.52,0.50,0.44,0.36,0.28,0.22,0.18,0.14,0.12,0.10,0.09,0.08],
 [0.22,0.30,0.40,0.52,0.64,0.76,0.86,0.92,0.90,0.82,0.72,0.64,0.62,0.64,0.62,0.54,0.42,0.30,0.22,0.18,0.16,0.14,0.10,0.06,0.04,0.06,0.12,0.20,0.30,0.40,0.48,0.54,0.60,0.68,0.76,0.84,0.92,0.96,0.94,0.84,0.70,0.56,0.44,0.36,0.30,0.24,0.18,0.12,0.08,0.06,0.06],
 [0.04,0.10,0.16,0.22,0.30,0.40,0.52,0.66,0.80,0.92,1.00,1.00,0.94,0.84,0.72,0.60,0.48,0.38,0.30,0.22,0.14,0.08,0.04,0.02,0.02,0.06,0.12,0.20,0.28,0.38,0.48,0.60,0.72,0.82,0.90,0.96,0.98,0.96,0.90,0.80,0.68,0.56,0.44,0.34,0.26,0.20,0.14,0.10,0.06,0.04,0.02],
 [0.10,0.12,0.16,0.22,0.30,0.40,0.52,0.64,0.76,0.86,0.94,0.97,0.96,0.90,0.80,0.66,0.50,0.36,0.26,0.20,0.16,0.14,0.14,0.16,0.18,0.20,0.22,0.26,0.32,0.38,0.44,0.50,0.56,0.60,0.62,0.62,0.60,0.56,0.52,0.48,0.44,0.40,0.34,0.28,0.22,0.16,0.12,0.10,0.10,0.12,0.14],
 [0.00,0.02,0.08,0.16,0.28,0.42,0.58,0.74,0.90,1.02,1.08,1.06,0.96,0.82,0.66,0.50,0.36,0.24,0.16,0.10,0.06,0.04,0.04,0.06,0.08,0.12,0.18,0.26,0.36,0.48,0.62,0.76,0.90,1.00,1.06,1.08,1.04,0.96,0.84,0.70,0.56,0.42,0.30,0.20,0.14,0.10,0.06,0.04,0.02,0.00,-0.02],
 [0.26,0.20,0.30,0.26,0.40,0.44,0.62,0.70,0.86,0.94,1.04,0.96,0.90,0.74,0.68,0.50,0.44,0.30,0.26,0.14,0.12,0.04,0.06,0.00,0.06,0.06,0.14,0.18,0.30,0.36,0.52,0.58,0.74,0.78,0.92,0.94,1.02,0.92,0.86,0.68,0.60,0.42,0.36,0.24,0.20,0.12,0.12,0.06,0.08,0.04,0.06],
 [0.04,0.12,0.08,0.20,0.22,0.36,0.40,0.58,0.66,0.80,0.86,0.88,0.80,0.70,0.56,0.52,0.40,0.38,0.26,0.24,0.14,0.16,0.08,0.12,0.08,0.16,0.16,0.28,0.30,0.46,0.50,0.66,0.70,0.84,0.86,0.96,0.92,0.90,0.78,0.70,0.54,0.48,0.34,0.30,0.20,0.18,0.10,0.12,0.06,0.10,0.08],
 [0.16,0.26,0.40,0.56,0.72,0.86,0.94,0.96,0.90,0.82,0.80,0.84,0.78,0.64,0.48,0.36,0.32,0.30,0.24,0.16,0.08,0.04,0.02,0.06,0.12,0.18,0.24,0.30,0.38,0.46,0.56,0.64,0.70,0.72,0.70,0.66,0.64,0.68,0.70,0.66,0.56,0.44,0.32,0.24,0.18,0.14,0.10,0.08,0.10,0.14,0.12],
 [0.10,0.18,0.26,0.36,0.48,0.60,0.72,0.82,0.90,0.96,0.98,0.94,0.86,0.74,0.60,0.46,0.32,0.20,0.10,0.04,0.02,-0.02,-0.04,0.02,0.06,0.00,-0.03,0.04,0.14,0.28,0.44,0.60,0.74,0.86,0.94,0.98,0.98,0.94,0.86,0.74,0.60,0.46,0.34,0.24,0.16,0.10,0.06,0.02,0.00,0.02,0.04],
 [0.20,0.14,0.24,0.34,0.30,0.42,0.56,0.52,0.66,0.74,0.70,0.76,0.68,0.58,0.62,0.50,0.38,0.42,0.30,0.20,0.24,0.16,0.10,0.14,0.08,0.12,0.20,0.16,0.28,0.38,0.34,0.48,0.60,0.56,0.70,0.76,0.72,0.78,0.70,0.60,0.62,0.48,0.38,0.42,0.30,0.20,0.24,0.14,0.10,0.14,0.08],
 [0.06,0.10,0.16,0.24,0.34,0.44,0.54,0.64,0.72,0.78,0.82,0.82,0.78,0.70,0.60,0.48,0.38,0.28,0.20,0.14,0.10,0.08,0.08,0.10,0.12,0.14,0.18,0.24,0.32,0.42,0.52,0.62,0.72,0.82,0.90,0.98,1.04,1.08,1.10,1.06,0.96,0.80,0.62,0.44,0.30,0.20,0.14,0.10,0.08,0.06,0.04],
 [0.10,0.30,0.56,0.76,0.82,0.74,0.62,0.58,0.64,0.80,0.96,1.02,0.98,0.86,0.70,0.52,0.36,0.26,0.20,0.16,0.12,0.10,0.08,0.06,0.04,0.06,0.10,0.16,0.26,0.38,0.52,0.66,0.78,0.86,0.90,0.88,0.84,0.80,0.78,0.74,0.66,0.54,0.40,0.28,0.18,0.12,0.08,0.06,0.05,0.06,0.08],
 [0.12,0.16,0.22,0.30,0.40,0.52,0.64,0.74,0.82,0.86,0.86,0.82,0.74,0.64,0.52,0.42,0.34,0.30,0.28,0.24,0.18,0.12,0.08,0.06,0.06,0.08,0.12,0.18,0.26,0.36,0.48,0.60,0.72,0.82,0.88,0.90,0.86,0.76,0.62,0.52,0.50,0.50,0.48,0.42,0.34,0.26,0.18,0.12,0.08,0.06,0.06],
 [0.02,0.06,0.02,0.10,0.16,0.28,0.36,0.52,0.64,0.78,0.88,0.96,0.94,0.90,0.78,0.68,0.52,0.42,0.28,0.22,0.12,0.10,0.04,0.04,0.02,0.06,0.08,0.16,0.22,0.34,0.44,0.58,0.68,0.80,0.86,0.94,0.94,0.92,0.84,0.76,0.62,0.52,0.38,0.30,0.18,0.14,0.06,0.06,0.00,0.02,0.00],
 [0.14,0.20,0.28,0.38,0.50,0.62,0.72,0.80,0.84,0.84,0.80,0.72,0.62,0.52,0.42,0.34,0.28,0.22,0.18,0.14,0.10,0.08,0.12,0.20,0.28,0.30,0.26,0.22,0.24,0.32,0.44,0.58,0.72,0.84,0.92,0.96,0.96,0.92,0.84,0.72,0.58,0.44,0.32,0.22,0.16,0.12,0.10,0.10,0.12,0.16,0.18],
 [0.04,0.06,0.08,0.12,0.18,0.26,0.36,0.48,0.62,0.76,0.90,1.00,1.06,1.04,0.94,0.78,0.60,0.44,0.30,0.20,0.12,0.08,0.06,0.08,0.12,0.16,0.20,0.26,0.34,0.44,0.56,0.68,0.78,0.86,0.90,0.88,0.82,0.76,0.72,0.70,0.66,0.58,0.46,0.34,0.24,0.16,0.10,0.06,0.04,0.04,0.06],
 [0.08,0.14,0.20,0.28,0.38,0.48,0.58,0.66,0.72,0.74,0.72,0.68,0.62,0.56,0.48,0.40,0.32,0.24,0.18,0.12,0.08,0.06,0.06,0.08,0.12,0.18,0.26,0.36,0.48,0.62,0.76,0.88,0.96,1.00,1.00,0.94,0.84,0.72,0.60,0.50,0.42,0.36,0.30,0.24,0.18,0.14,0.10,0.08,0.06,0.05,0.04]
];

// ---------- axis ticks ----------
const lnTicksX = [1.5,2.0,2.5,3.0,3.5,4.0];
const lnTicksY = [0,0.5,1.0,1.5];
const mgTicksX = [0,0.5,1.0,1.5];
const mgTicksY = [0,0.2,0.4,0.6,0.8,1.0,1.2,1.4];
const mnTicksX = [0,0.5,1.0,1.5,2.0,2.5];
const mnTicksY = [0,0.2,0.4,0.6,0.8,1.0];

// ---------- build ----------
const fig = document.getElementById("fig");
const titleCenters = [173, 577.5, 982];
titles.forEach((t, i) => {
  const d = document.createElement("div");
  d.className = "title"; d.textContent = t;
  d.style.left = titleCenters[i] + "px";
  fig.appendChild(d);
});

const rowsOf = (xs, ys) => ys.map((y, i) => ({x: xs[i], y}));
const bundle = (xs, curves) => curves.flatMap((ys, k) => ys.map((y, i) => ({x: xs[i], y, k})));
const fmt = d3.format(".1f");

const panels = [
  {box:[28,72,339.5,350], xd:[1.4,4.1], yd:[-0.058,1.533], gx:lnGridX, greens:lnSmooth, rx:lnGridX, ry:lnMeanSmoothY, bx:lnTrueX, by:lnTrueY, xt:lnTicksX, yt:lnTicksY},
  {box:[432.7,71.7,744,350], xd:[-0.076,1.976], yd:[-0.054,1.404], gx:mgGridX, greens:mgSmooth, rx:mgGridX, ry:mgMeanSmoothY, bx:mgTrueX, by:mgTrueY, xt:mgTicksX, yt:mgTicksY},
  {box:[836.3,44,1148.3,347.3], xd:[-0.1,2.6], yd:[-0.04,1.04], gx:mnGridX, greens:mnSmooth, rx:mnGridX, ry:mnMeanSmoothY, bx:mnTrueX, by:mnTrueY, xt:mnTicksX, yt:mnTicksY},
  {box:[28,461,339.5,739], xd:[1.4,4.1], yd:[-0.059,1.523], gx:lnFineX, greens:lnRough, rx:lnMeanRoughX, ry:lnMeanRoughY, bx:lnTrueX, by:lnTrueY, xt:lnTicksX, yt:lnTicksY},
  {box:[432.7,460.7,744,739], xd:[-0.076,1.976], yd:[-0.054,1.404], gx:mgFineX, greens:mgRough, rx:mgMeanRoughX, ry:mgMeanRoughY, bx:mgTrueX, by:mgTrueY, xt:mgTicksX, yt:mgTicksY},
  {box:[837.3,460.7,1148.3,739], xd:[-0.1,2.6], yd:[-0.04,1.04], gx:mnFineX, greens:mnRough, rx:mnMeanRoughX, ry:mnMeanRoughY, bx:mnTrueX, by:mnTrueY, xt:mnTicksX, yt:mnTicksY}
];

panels.forEach(p => {
  const [L, T, R, B] = p.box;
  const mL = 34, mR = 3, mT = 3, mB = 26;
  const svg = Plot.plot({
    width: (R - L) + mL + mR,
    height: (B - T) + mT + mB,
    marginLeft: mL, marginRight: mR, marginTop: mT, marginBottom: mB,
    x: {domain: p.xd},
    y: {domain: p.yd},
    style: {fontFamily: '"Liberation Sans", Arial, Helvetica, sans-serif', fontSize: "8.5px", color: "#222", background: "transparent", overflow: "visible"},
    marks: [
      Plot.line(bundle(p.gx, p.greens), {x: "x", y: "y", z: "k", stroke: "#00ff00", strokeWidth: 1, curve: "catmull-rom", clip: true}),
      Plot.line(rowsOf(p.rx, p.ry), {x: "x", y: "y", stroke: "#ff0000", strokeWidth: 1.2, strokeDasharray: "4,3", curve: "catmull-rom", clip: true}),
      Plot.line(rowsOf(p.bx, p.by), {x: "x", y: "y", stroke: "#000", strokeWidth: 2, curve: "catmull-rom", clip: true}),
      Plot.frame({stroke: "#000", strokeWidth: 1}),
      Plot.axisX({ticks: p.xt, tickSize: 5, tickPadding: 8, tickFormat: fmt, label: null, stroke: "#000"}),
      Plot.axisY({ticks: p.yt, tickSize: 6, tickFormat: () => "", label: null, stroke: "#000"}),
      Plot.text(p.yt, {y: d => d, frameAnchor: "left", dx: -16, rotate: -90, text: d => fmt(d), fill: "#222"})
    ]
  });
  svg.style.position = "absolute";
  svg.style.left = (L - mL) + "px";
  svg.style.top = (T - mT) + "px";
  fig.appendChild(svg);
});
</script></body></html>
